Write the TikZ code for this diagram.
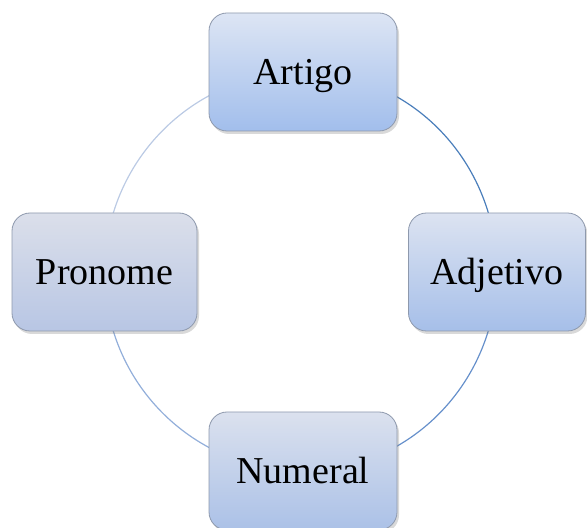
\documentclass[tikz,border=0pt]{standalone}
\usepackage{fontspec}
\setmainfont{Liberation Serif}
\usetikzlibrary{backgrounds, shadows}

\definecolor{boxline}{HTML}{8E99AD}
\definecolor{ringA}{HTML}{4A7EBB}
\definecolor{ringB}{HTML}{6690CB}
\definecolor{ringC}{HTML}{92AEDA}
\definecolor{ringD}{HTML}{BBCAE4}

\tikzset{
  partbox/.style={draw=boxline, line width=0.8pt, rounded corners=18pt,
    minimum width=188pt, minimum height=118pt,
    text height=25pt, text depth=0pt,
    font=\fontsize{38}{45}\selectfont,
    drop shadow={shadow xshift=2pt, shadow yshift=-3pt, opacity=0.3}},
  ringline/.style={line width=1.2pt}
}

\begin{document}
\begin{tikzpicture}[x=1pt, y=1pt]
    \useasboundingbox (0,0) rectangle (587,528);

    % The four word classes on the ring
    \node[partbox, top color={rgb,255:red,221;green,229;blue,244}, bottom color={rgb,255:red,162;green,190;blue,236}] (artigo) at (303,456) {Artigo};
    \node[partbox, minimum width=177pt, top color={rgb,255:red,220;green,227;blue,241}, bottom color={rgb,255:red,166;green,191;blue,233}] (adjetivo) at (497,256) {Adjetivo};
    \node[partbox, top color={rgb,255:red,219;green,225;blue,238}, bottom color={rgb,255:red,171;green,193;blue,231}] (numeral) at (303,57) {Numeral};
    \node[partbox, minimum width=185pt, top color={rgb,255:red,219;green,223;blue,234}, bottom color={rgb,255:red,184;green,198;blue,228}] (pronome) at (104.5,256) {Pronome};

    % Ring segments behind the boxes
    \begin{pgfonlayer}{background}
        \draw[ringline, ringA] (artigo.center) to[out=0, in=90] (adjetivo.center);
        \draw[ringline, ringB] (adjetivo.center) to[out=-90, in=0] (numeral.center);
        \draw[ringline, ringC] (numeral.center) to[out=180, in=-90] (pronome.center);
        \draw[ringline, ringD] (pronome.center) to[out=90, in=180] (artigo.center);
    \end{pgfonlayer}

\end{tikzpicture}
\end{document}
